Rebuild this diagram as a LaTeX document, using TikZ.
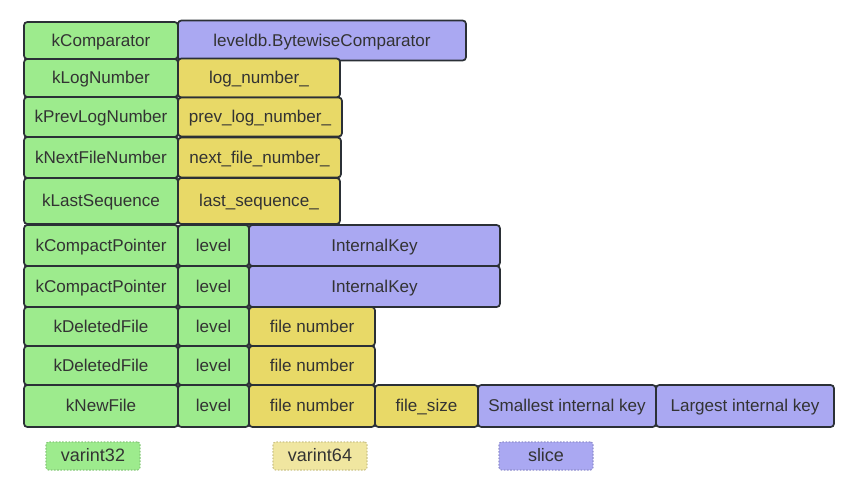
\documentclass[tikz,border=0pt]{standalone}
\usepackage{fontspec}
\setmainfont{Liberation Sans}
\usetikzlibrary{positioning}
\definecolor{keygreen}{HTML}{9DEB8D}
\definecolor{numyellow}{HTML}{E8D967}
\definecolor{slicepurple}{HTML}{AAA8F2}
\definecolor{paleyellow}{HTML}{F0E6A0}
\definecolor{edgegray}{HTML}{2B3036}
\definecolor{textgray}{HTML}{333333}

\begin{document}
\begin{tikzpicture}[x=0.75pt, y=-0.75pt,
    cell/.style={draw=edgegray, line width=1.3pt, rounded corners=2.5pt, inner sep=0pt, outer sep=0pt, text height=10.6pt, text depth=2.2pt, text=textgray, font=\fontsize{12.8}{14}\selectfont},
    wd/.style={minimum width=#1*0.75pt},
    ht/.style={minimum height=#1*0.75pt},
    tagbox/.style={cell, fill=keygreen, wd=154, anchor=north west},
    levelbox/.style={cell, fill=keygreen, wd=71},
    numbox/.style={cell, fill=numyellow},
    slicebox/.style={cell, fill=slicepurple},
    legendbox/.style={inner sep=0pt, wd=94, ht=28, rounded corners=2pt, line width=0.8pt, dash pattern=on 1.2pt off 1.2pt, text height=10.6pt, text depth=2.4pt, text=textgray, font=\fontsize{13.5}{15}\selectfont},]
    \useasboundingbox (0,0) rectangle (856,503);
    % fixed fields
    \node[tagbox, ht=37] (comparator) at (24,22) {kComparator};
    \node[slicebox, wd=288, ht=40, right=0pt of comparator] (comparatorval) {leveldb.BytewiseComparator};
    \node[tagbox, ht=38] (lognum) at (24,59) {kLogNumber};
    \node[numbox, wd=162, ht=39, right=0pt of lognum] (lognumval) {log\_number\_};
    \node[tagbox, ht=40] (prevlog) at (24,97) {kPrevLogNumber};
    \node[numbox, wd=164, ht=39, right=0pt of prevlog] (prevlogval) {prev\_log\_number\_};
    \node[tagbox, ht=41] (nextfile) at (24,137) {kNextFileNumber};
    \node[numbox, wd=163, ht=40, right=0pt of nextfile] (nextfileval) {next\_file\_number\_};
    \node[tagbox, ht=46] (lastseq) at (24,178) {kLastSequence};
    \node[numbox, wd=162, ht=46, right=0pt of lastseq] (lastseqval) {last\_sequence\_};
    % compact pointers
    \node[tagbox, ht=41] (compactA) at (24,225) {kCompactPointer};
    \node[levelbox, ht=41, right=0pt of compactA] (compactAlevel) {level};
    \node[slicebox, wd=251, ht=41, right=0pt of compactAlevel] (compactAkey) {InternalKey};
    \node[tagbox, ht=41] (compactB) at (24,266) {kCompactPointer};
    \node[levelbox, ht=41, right=0pt of compactB] (compactBlevel) {level};
    \node[slicebox, wd=251, ht=41, right=0pt of compactBlevel] (compactBkey) {InternalKey};
    % deleted files
    \node[tagbox, ht=39] (deletedA) at (24,307) {kDeletedFile};
    \node[levelbox, ht=39, right=0pt of deletedA] (deletedAlevel) {level};
    \node[numbox, wd=126, ht=39, right=0pt of deletedAlevel] (deletedAnum) {file number};
    \node[tagbox, ht=39] (deletedB) at (24,346) {kDeletedFile};
    \node[levelbox, ht=39, right=0pt of deletedB] (deletedBlevel) {level};
    \node[numbox, wd=126, ht=39, right=0pt of deletedBlevel] (deletedBnum) {file number};
    % new file
    \node[tagbox, ht=42] (newfile) at (24,385) {kNewFile};
    \node[levelbox, ht=42, right=0pt of newfile] (newfilelevel) {level};
    \node[numbox, wd=126, ht=42, right=0pt of newfilelevel] (newfilenum) {file number};
    \node[numbox, wd=103, ht=42, right=0pt of newfilenum] (newfilesize) {file\_size};
    \node[slicebox, wd=178, ht=42, right=0pt of newfilesize] (smallest) {Smallest internal key};
    \node[slicebox, wd=178, ht=42, right=0pt of smallest] (largest) {Largest internal key};
    % legend
    \node[legendbox, fill=keygreen, draw=keygreen!85!black] (varA) at (93,456) {varint32};
    \node[legendbox, fill=paleyellow, draw=paleyellow!85!black] (varB) at (320,456) {varint64};
    \node[legendbox, fill=slicepurple, draw=slicepurple!85!black] (slicekey) at (546,456) {slice};
\end{tikzpicture}
\end{document}
